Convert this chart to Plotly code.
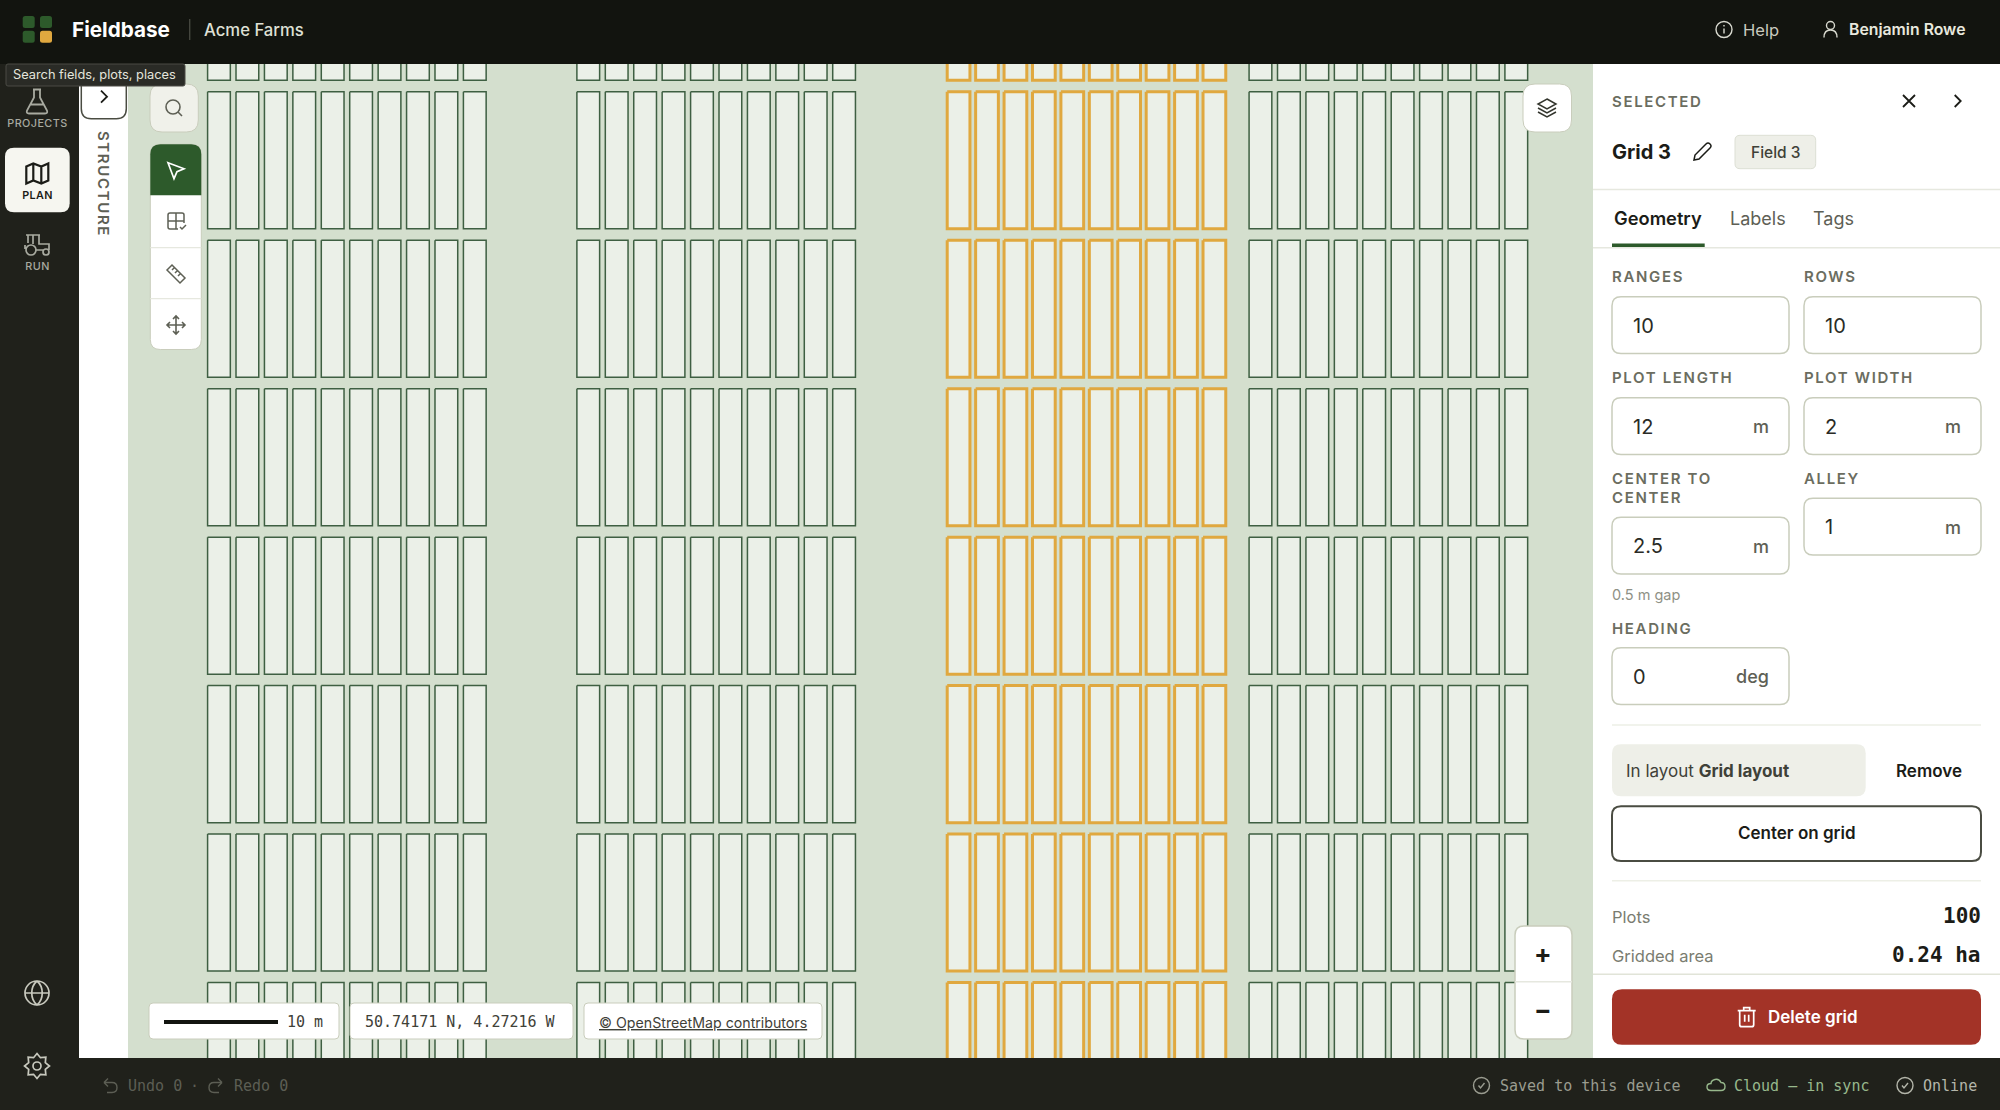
import math
import plotly.graph_objects as go
from plotly.subplots import make_subplots

# grids, metres on the map
grid_names = ['Grid 1', 'Grid 2', 'Grid 3', 'Grid 4']
grid_left = [7.0, 39.48, 72.05, 98.6]
grid_top = [-23.57, -23.57, -23.57, -23.57]
selected_grid = 'Grid 3'
ranges = 10
rows = 10
plot_length = 12
plot_width = 2
center_to_center = 2.5
alley = 1
heading = 0
gap = 0.5

plots_total = '100'
gridded_area = '0.24 ha'
scale_label = '10 m'
coords_label = '50.74171 N, 4.27216 W'

BODY = 'Inter'
MONO = 'DejaVu Sans Mono'
GREEN = '#2d5a2b'
ORANGE = '#e0a83f'
PLOT_LINE = '#3e5f42'
PLOT_FILL = '#ebf0e8'
MAP_BG = '#d4dfce'
DARK = '#12140f'
BAR = '#20211b'
MUTED = '#6b6d60'
BORDER = '#c9cdbc'
RULE = '#e6e8df'

PX_PER_M_X = 11.37
PX_PER_M_Y = 11.42
MAP_X = (128, 1593)
MAP_Y = (64, 1058)

fig = make_subplots(rows=1, cols=1)


def plot_outlines(left, top):
    xs, ys = [], []
    for r in range(ranges):
        for c in range(rows):
            x0 = left + c * center_to_center
            y0 = top + r * (plot_length + alley)
            xs += [x0, x0 + plot_width, x0 + plot_width, x0, x0, None]
            ys += [y0, y0, y0 + plot_length, y0 + plot_length, y0, None]
    return xs, ys


for name, left, top in zip(grid_names, grid_left, grid_top):
    xs, ys = plot_outlines(left, top)
    chosen = name == selected_grid
    fig.add_trace(go.Scatter(x=xs, y=ys, mode='lines', fill='toself', fillcolor=PLOT_FILL, name=name,
                             line=dict(color=ORANGE if chosen else PLOT_LINE, width=3 if chosen else 1.5),
                             hoverinfo='skip', showlegend=False, xaxis='x2', yaxis='y2'))

shapes = []
notes = []


def shape(path, fill='rgba(0,0,0,0)', line=None, width=0):
    shapes.append(dict(type='path', path=path, xref='x', yref='y', layer='above', fillcolor=fill,
                       line=dict(color=line or 'rgba(0,0,0,0)', width=width)))


def box(x0, y0, x1, y1, fill, line=None, width=0, r=0):
    if r == 0:
        p = f'M{x0} {y0} L{x1} {y0} L{x1} {y1} L{x0} {y1} Z'
    else:
        p = (f'M{x0 + r} {y0} L{x1 - r} {y0} Q{x1} {y0} {x1} {y0 + r} L{x1} {y1 - r} Q{x1} {y1} {x1 - r} {y1} '
             f'L{x0 + r} {y1} Q{x0} {y1} {x0} {y1 - r} L{x0} {y0 + r} Q{x0} {y0} {x0 + r} {y0} Z')
    shape(p, fill, line, width)


def circle(cx, cy, r):
    k = 0.5523 * r
    return (f'M{cx - r} {cy} C{cx - r} {cy - k} {cx - k} {cy - r} {cx} {cy - r} '
            f'C{cx + k} {cy - r} {cx + r} {cy - k} {cx + r} {cy} '
            f'C{cx + r} {cy + k} {cx + k} {cy + r} {cx} {cy + r} '
            f'C{cx - k} {cy + r} {cx - r} {cy + k} {cx - r} {cy} Z ')


def icon(cx, cy, path, color, width=1.6, fill='rgba(0,0,0,0)'):
    out, nums = [], 0
    for tok in path.replace('Z', ' Z ').split():
        if tok[0].isalpha():
            out.append(tok[0])
            tok = tok[1:]
            nums = 0
            if not tok:
                continue
        v = float(tok) + (cx if nums % 2 == 0 else cy)
        out.append(f'{v:.2f}')
        nums += 1
    shape(' '.join(out), fill, color, width)


def text(x, y, s, size, color, weight=400, family=BODY, anchor='left', angle=0):
    notes.append(dict(x=x, y=y, xref='x', yref='y', text=s, showarrow=False, xanchor=anchor, yanchor='middle',
                      align=anchor, textangle=angle, borderpad=0, borderwidth=0,
                      font=dict(size=size, color=color, family=family, weight=weight)))


X_ICON = 'M-6 -6 L6 6 M6 -6 L-6 6'
CHEVRON = 'M-3 -6 L3 0 L-3 6'
CHECK = circle(0, 0, 8) + 'M-3 0 L-1 2.5 L3 -2.5'

# frame
box(0, 0, 2000, 64, DARK)
box(0, 64, 79, 1058, BAR)
box(79, 64, 128, 1058, '#ffffff')
box(1593, 64, 2000, 1058, '#ffffff')
box(0, 1058, 2000, 1110, BAR)

# header
for x0, y0, c in [(22.7, 16, GREEN), (40, 16, GREEN), (22.7, 30.7, GREEN), (40, 30.7, ORANGE)]:
    box(x0, y0, x0 + 12, y0 + 12, c, r=2.5)
text(71.5, 29, 'Fieldbase', 20.7, '#ffffff', 700)
box(189, 19, 190.4, 40, '#44463e')
text(204, 29.5, 'Acme Farms', 16.7, '#dfe0d5', 500)
icon(1724, 29.5, circle(0, 0, 8) + 'M0 -1 L0 4 M0 -4.5 L0 -3', '#d8d9cf', 1.4)
text(1742.5, 29.5, 'Help', 16.5, '#c9cabf')
icon(1830.5, 29.5, circle(0, -4, 4) + 'M-6.5 8 Q-6.5 0.5 0 0.5 Q6.5 0.5 6.5 8', '#d8d9cf', 1.4)
text(1849, 29.5, 'Benjamin Rowe', 15.8, '#e8e8de', 600)

# left rail
box(5, 147.7, 69.7, 212.3, '#f6f6f0', r=9)
icon(37, 101.5, 'M-4 -12 L4 -12 M-3 -12 L-3 -4 L-10 9 Q-11 12 -8 12 L8 12 Q11 12 10 9 L3 -4 L3 -12 M-6.5 3 L6.5 3',
     '#a8aaa0', 1.8)
text(37, 123, 'PROJECTS', 10.8, '#a8aaa0', 500, anchor='center')
icon(37.3, 173.5, 'M-11 -7 L-4 -10 L4 -7 L11 -10 L11 7 L4 10 L-4 7 L-11 10 Z M-4 -10 L-4 7 M4 -7 L4 10', '#1b1c17', 2.2)
text(37, 195, 'PLAN', 10.8, '#1b1c17', 600, anchor='center')
icon(37, 245, circle(-6, 5, 5) + circle(9, 7, 3)
     + 'M-11 -10 L3 -10 M-9 -10 L-9 -2 M-4 -10 L-4 -1 M2 -10 L2 -1 L12 -1 L12 5 M-1 5 L6 5 M-12 0 L-12 4',
     '#a8aaa0', 1.7)
text(37, 266.7, 'RUN', 10.8, '#a8aaa0', 500, anchor='center')
icon(37, 993, circle(0, 0, 12) + 'M-12 0 L12 0 M0 -12 C-7 -6 -7 6 0 12 C7 6 7 -6 0 -12', '#c8c9be', 1.7)
gear = []
for i in range(16):
    rad = 12.5 if i % 2 == 0 else 9
    a = i * math.pi / 8
    gear.append(f'{"M" if i == 0 else "L"}{rad * math.sin(a):.2f} {-rad * math.cos(a):.2f}')
icon(37, 1066, ' '.join(gear) + ' Z ' + circle(0, 0, 4), '#c8c9be', 1.7)

# structure tab
box(81.3, 66, 126.3, 118.7, '#ffffff', '#4a4c42', 1.5, r=10)
icon(104, 96.7, CHEVRON, '#1b1c17', 1.8)
text(103.7, 184, 'STRUCTURE', 15, '#5e6055', 600, anchor='center', angle=90)

# map tools
box(150, 84, 198.3, 132, '#f0f1ea', BORDER, 1, r=12)
icon(174, 108, circle(-1, -1, 7) + 'M4 4 L8 8', '#5e6055', 1.6)
box(150.3, 144.3, 201.3, 349.5, '#ffffff', BORDER, 1, r=10)
shape('M150.3 195.3 L150.3 154.3 Q150.3 144.3 160.3 144.3 L191.3 144.3 Q201.3 144.3 201.3 154.3 L201.3 195.3 Z', GREEN)
box(150.3, 247, 201.3, 248.2, RULE)
box(150.3, 298, 201.3, 299.2, RULE)
icon(176, 170.7, 'M-8 -8 L8 -2 L1 1 L-2 8 Z', '#ffffff', 1.7)
icon(176, 221, 'M8 2 L8 -6 Q8 -8 6 -8 L-6 -8 Q-8 -8 -8 -6 L-8 6 Q-8 8 -6 8 L2 8 M-8 0 L8 0 M0 -8 L0 8 M4 6 L6 8 L10 4',
     '#5e6055', 1.5)
icon(176, 274, 'M-9 -4 L-4 -9 L9 4 L4 9 Z M-4 -4 L-2 -6 M-1 -1 L1 -3 M2 2 L4 0', '#5e6055', 1.5)
icon(176, 325, 'M0 -9 L0 9 M-9 0 L9 0 M-3 -6 L0 -9 L3 -6 M-3 6 L0 9 L3 6 M-6 -3 L-9 0 L-6 3 M6 -3 L9 0 L6 3', '#5e6055', 1.6)

# layers and zoom
box(1523, 84, 1571.5, 132, '#ffffff', BORDER, 1, r=12)
icon(1547, 108, 'M0 -9 L9 -4 L0 1 L-9 -4 Z M-9 0 L0 5 L9 0 M-9 4 L0 9 L9 4', '#33352d', 1.5)
box(1515, 926, 1572, 1039, '#ffffff', BORDER, 1.5, r=9)
box(1515, 981, 1572, 982.4, RULE)
text(1543, 953.7, '+', 26, '#1b1c17', 700, anchor='center')
text(1543, 1009.7, '−', 26, '#1b1c17', 700, anchor='center')

# scale, coordinates, attribution
box(149, 1003, 339, 1039, '#ffffff', BORDER, 1, r=4)
box(164, 1020, 278, 1024, DARK)
text(287, 1021.5, scale_label, 15, '#3f4138', family=MONO)
box(350, 1003, 573, 1039, '#ffffff', BORDER, 1, r=4)
text(365, 1022, coords_label, 15, '#3f4138', family=MONO)
box(584, 1003, 822, 1039, '#ffffff', BORDER, 1, r=4)
text(598.5, 1022, '<u>© OpenStreetMap contributors</u>', 14.2, '#3f4138')

# side panel
text(1612, 101, 'SELECTED', 15, MUTED, 600)
icon(1909, 101, X_ICON, '#1b1c17', 1.8)
icon(1957.7, 101, CHEVRON, '#1b1c17', 1.8)
text(1612, 152, selected_grid, 20, '#1b1c17', 700)
icon(1702, 152, 'M-8 8 L-7 3 L4 -8 Q6 -10 8 -8 Q10 -6 8 -4 L-3 7 Z', '#1b1c17', 1.5)
box(1735, 135.3, 1815.7, 168.7, '#eeefe8', '#dcdfd4', 1, r=5)
text(1775.3, 152, 'Field 3', 15.5, '#3f4138', 500, anchor='center')
box(1593, 188.8, 2000, 190.2, RULE)
text(1613.5, 218, 'Geometry', 18.3, '#1b1c17', 600)
text(1729.5, 218, 'Labels', 18, '#5e6055')
text(1813, 218, 'Tags', 18, '#5e6055')
box(1593, 247, 2000, 248.4, RULE)
box(1612, 243.5, 1704.7, 247, GREEN)


def field(x, label_y, label, top, value, unit=None):
    text(x, label_y, label, 15, MUTED, 600)
    box(x, top, x + 177, top + 56.8, '#ffffff', BORDER, 1.5, r=9)
    text(x + 20.7, top + 29, value, 20, '#2a2b26')
    if unit:
        text(x + 156.5, top + 29, unit, 18, '#5e6055', 500, anchor='right')


col1, col2 = 1612, 1804
field(col1, 276.7, 'RANGES', 296.7, str(ranges))
field(col2, 276.7, 'ROWS', 296.7, str(rows))
field(col1, 377.3, 'PLOT LENGTH', 397.7, str(plot_length), 'm')
field(col2, 377.3, 'PLOT WIDTH', 397.7, str(plot_width), 'm')
text(col1, 478, 'CENTER TO', 15, MUTED, 600)
field(col1, 497.7, 'CENTER', 517.3, str(center_to_center), 'm')
field(col2, 478, 'ALLEY', 498.3, str(alley), 'm')
text(col1, 595.3, f'{gap} m gap', 14.5, '#8f9186')
field(col1, 628.3, 'HEADING', 647.7, str(heading), 'deg')

box(1612, 724.3, 1981, 725.7, '#edefe6')
box(1612, 744.3, 1865.7, 796.3, '#eeefe8', r=9)
text(1626, 770.7, 'In layout <b>Grid layout</b>', 17, '#3f4138')
text(1896, 770.7, 'Remove', 17, '#1b1c17', 600)
box(1612, 806.3, 1981, 861, '#ffffff', '#4a4c42', 2, r=9)
text(1796.7, 833.3, 'Center on grid', 17, '#1b1c17', 600, anchor='center')
box(1612, 880, 1981, 881.4, '#edefe6')
text(1612, 916.7, 'Plots', 16.5, '#7a7c70')
text(1980.5, 915.5, plots_total, 21, '#1b1c17', 600, MONO, anchor='right')
text(1612, 956, 'Gridded area', 16.5, '#7a7c70')
text(1980.5, 955, gridded_area, 21, '#1b1c17', 600, MONO, anchor='right')
box(1593, 973.6, 2000, 975, '#e1e4d8')
box(1612, 989.3, 1981, 1044.7, '#a33327', r=10)
icon(1746.7, 1016.7, 'M-9 -6 L9 -6 M-3 -6 L-3 -9 L3 -9 L3 -6 M-7 -6 L-7 8 Q-7 10 -5 10 L5 10 Q7 10 7 8 L7 -6 M-2 -2 L-2 5 M2 -2 L2 5',
     '#ffffff', 1.7)
text(1768.3, 1016.7, 'Delete grid', 17, '#ffffff', 600)

# status bar
UNDO = '#5c5e54'
STATUS_Y = 1085.5
icon(110, STATUS_Y, 'M-6 -3 L-2 -7 M-6 -3 L-2 1 M-6 -3 L2 -3 Q7 -3 7 2 Q7 7 2 7 L-3 7', UNDO, 1.4)
text(128, STATUS_Y, 'Undo 0', 15, UNDO, family=MONO)
text(194, STATUS_Y, '·', 15, UNDO, family=MONO, anchor='center')
icon(216, STATUS_Y, 'M6 -3 L2 -7 M6 -3 L2 1 M6 -3 L-2 -3 Q-7 -3 -7 2 Q-7 7 -2 7 L3 7', UNDO, 1.4)
text(234, STATUS_Y, 'Redo 0', 15, UNDO, family=MONO)
icon(1481.5, STATUS_Y, CHECK, '#9a9c90', 1.4)
text(1499.5, STATUS_Y, 'Saved to this device', 15, '#9a9c90', family=MONO)
icon(1716, STATUS_Y, 'M-5 5 L5 5 Q9 5 9 1 Q9 -3 5 -3 Q3 -7 -1 -6 Q-5 -5 -5 -2 Q-9 -2 -9 1.5 Q-9 5 -5 5 Z', '#97b88c', 1.4)
text(1734, STATUS_Y, 'Cloud — in sync', 15, '#97b88c', family=MONO)
icon(1905, STATUS_Y, CHECK, '#b4b6aa', 1.4)
text(1923, STATUS_Y, 'Online', 15, '#b4b6aa', family=MONO)

# tooltip sits over the rail and the tab
box(6, 64, 185, 86, '#2a2b26', '#4a4b44', 1, r=2)
text(13, 74.7, 'Search fields, plots, places', 12.8, '#e4e5dc')

fig.update_layout(
    width=2000, height=1110, autosize=False, margin=dict(l=0, r=0, t=0, b=0),
    paper_bgcolor='#ffffff', plot_bgcolor=MAP_BG, showlegend=False,
    shapes=shapes, annotations=notes,
    xaxis=dict(domain=[0, 1], range=[0, 2000], visible=False, fixedrange=True),
    yaxis=dict(domain=[0, 1], range=[1110, 0], visible=False, fixedrange=True),
    xaxis2=dict(domain=[MAP_X[0] / 2000, MAP_X[1] / 2000], range=[0, (MAP_X[1] - MAP_X[0]) / PX_PER_M_X],
                anchor='y2', visible=False, fixedrange=True),
    yaxis2=dict(domain=[1 - MAP_Y[1] / 1110, 1 - MAP_Y[0] / 1110], range=[(MAP_Y[1] - MAP_Y[0]) / PX_PER_M_Y, 0],
                anchor='x2', visible=False, fixedrange=True),
)

# page margin off, and the uppercase labels get their tracking
post = """
document.body.style.margin = '0';
document.documentElement.style.overflow = 'hidden';
document.querySelectorAll('.annotation-text').forEach(function (t) {
    if (/^[A-Z ]+$/.test(t.textContent)) {
        t.style.letterSpacing = parseFloat(t.style.fontSize) < 12 ? '0.04em' : '0.11em';
    }
});
"""
fig.write_html('out.html', config={'displayModeBar': False}, post_script=post)
